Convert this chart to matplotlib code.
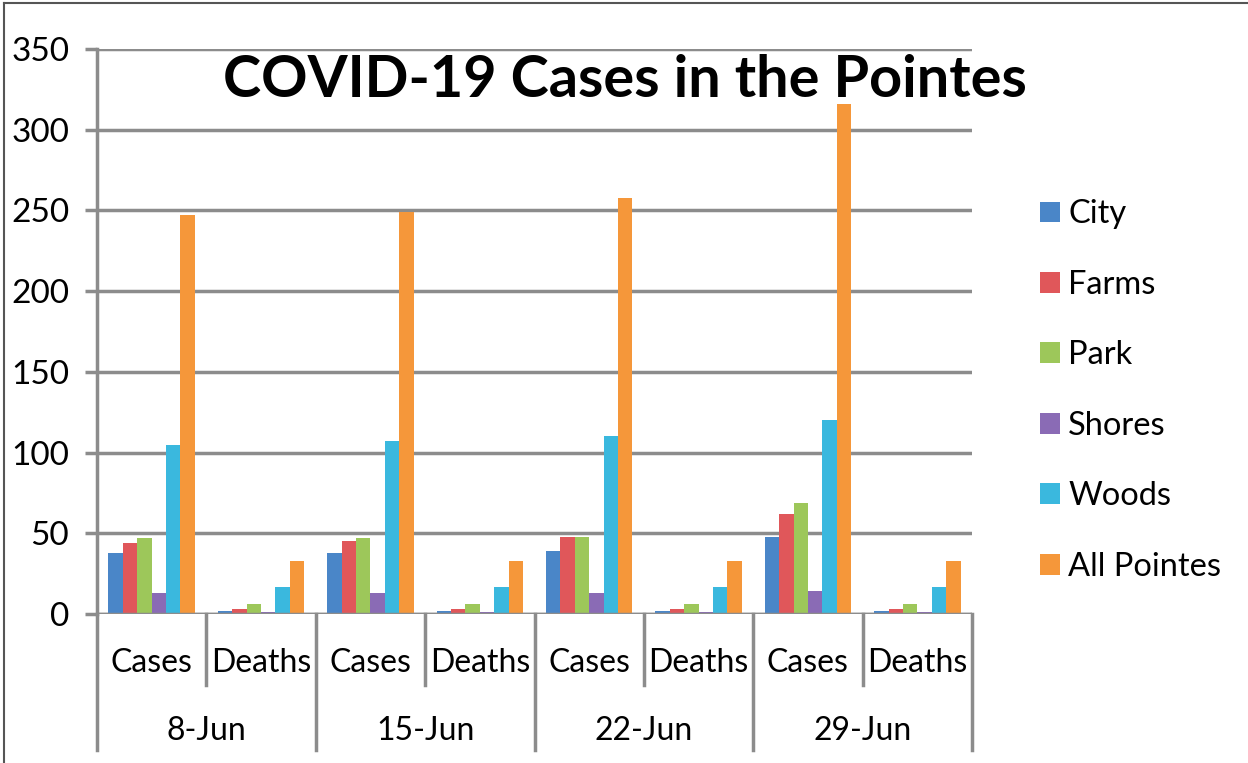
import numpy as np
import matplotlib
matplotlib.use("Agg")
import matplotlib.pyplot as plt

# data
dates = ["8-Jun", "15-Jun", "22-Jun", "29-Jun"]
kinds = ["Cases", "Deaths"]
series = ["City", "Farms", "Park", "Shores", "Woods", "All Pointes"]
colors = ["#4a86c8", "#e0575a", "#9dc75a", "#8a6bb5", "#3ab8de", "#f5973a"]

city = [38, 2, 38, 2, 39, 2, 48, 2]
farms = [44, 3, 45, 3, 48, 3, 62, 3]
park = [47, 6, 47, 6, 48, 6, 69, 6]
shores = [13, 1, 13, 1, 13, 1, 14, 1]
woods = [105, 17, 107, 17, 110, 17, 120, 17]
all_pointes = [247, 33, 249, 33, 258, 33, 316, 33]

values = [city, farms, park, shores, woods, all_pointes]

plt.rcParams['font.family'] = ['Lato', 'DejaVu Sans']
grid_col = "#8c8c8c"

fig = plt.figure(figsize=(12.48, 7.63), dpi=100)
ax = fig.add_axes([97 / 1248, 1 - 614 / 763, (972 - 97) / 1248, (614 - 49) / 763])

x = np.arange(len(dates) * len(kinds))
group_w = 0.79
bw = group_w / len(series)
for i, (name, vals, col) in enumerate(zip(series, values, colors)):
    ax.bar(x - group_w / 2 + bw * (i + 0.5), vals, width=bw, color=col,
           label=name, zorder=3)

ax.set_xlim(-0.5, len(x) - 0.5)
ax.set_ylim(0, 350)
ax.set_yticks(range(0, 351, 50))
ax.yaxis.grid(True, color=grid_col, linewidth=2.5, zorder=0)
ax.set_axisbelow(True)
for s in ["top", "right", "bottom"]:
    ax.spines[s].set_visible(False)
ax.spines["left"].set_color(grid_col)
ax.spines["left"].set_linewidth(2.5)
ax.axhline(0, color=grid_col, linewidth=2.5, zorder=4)
ax.tick_params(axis="y", length=9, width=2.5, color=grid_col, labelsize=24, pad=11)
ax.set_xticks([])

# two-level category axis
tr = ax.get_xaxis_transform()
h_px = 614 - 49
def yax(py):
    return (614 - py) / h_px

for k in range(len(x) + 1):
    xe = k - 0.5
    bottom = yax(750) if k % 2 == 0 else yax(685)
    ax.plot([xe, xe], [0, bottom], transform=tr, color=grid_col,
            linewidth=2.5, clip_on=False)
for k in x:
    ax.text(k, yax(663), kinds[k % 2], transform=tr, ha="center",
            va="center", fontsize=23)
for g, d in enumerate(dates):
    ax.text(2 * g + 0.5, yax(731), d, transform=tr, ha="center",
            va="center", fontsize=23)

ax.text(0.603, 0.944, "COVID-19 Cases in the Pointes", transform=ax.transAxes,
        ha="center", va="center", fontsize=41.5, fontweight="bold")

ax.legend(loc="upper left", bbox_to_anchor=(1011 / 1248, 1 - 170 / 763),
          bbox_transform=fig.transFigure, frameon=False, fontsize=23.5,
          handlelength=0.6, handleheight=0.6, handletextpad=0.25,
          labelspacing=1.24)

# figure border on the left and top
fig.add_artist(plt.Line2D([4 / 1248, 4 / 1248], [0, 1 - 3 / 763],
                          color="#555555", linewidth=1.5))
fig.add_artist(plt.Line2D([4 / 1248, 1], [1 - 3 / 763, 1 - 3 / 763],
                          color="#555555", linewidth=1.5))

fig.savefig("out.png", dpi=100)
